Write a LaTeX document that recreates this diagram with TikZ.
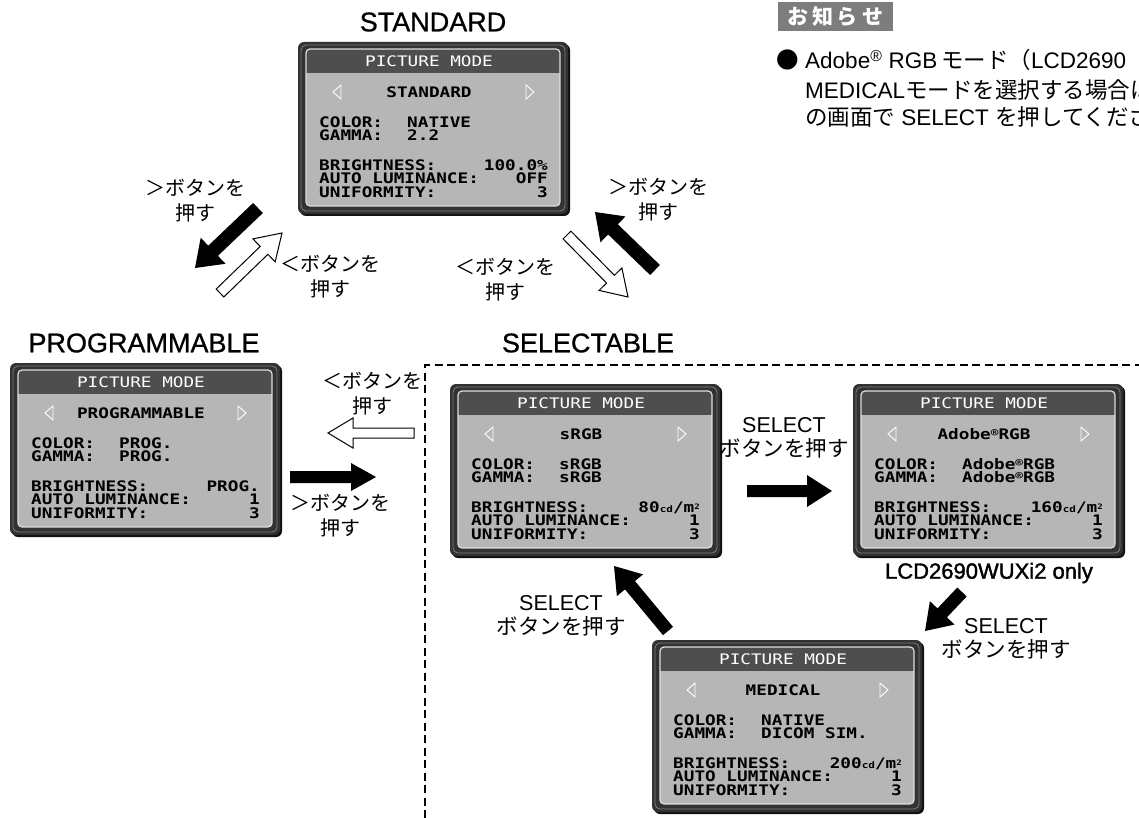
\documentclass[tikz,border=0pt]{standalone}
\usepackage{fontspec}
\setmainfont{Liberation Sans}
\newfontfamily\jpfont{Noto Sans CJK JP}
\newfontfamily\osdfont[FakeStretch=1.22]{DejaVu Sans Mono}
\newfontfamily\titlefont[FakeBold=0.8]{Liberation Sans}
\newfontfamily\onlyfont[FakeBold=1.6]{Liberation Sans}
\usetikzlibrary{calc}
\definecolor{osdFrame}{RGB}{50,50,50}
\definecolor{osdShade}{RGB}{18,18,18}
\definecolor{osdRim}{RGB}{125,125,125}
\definecolor{osdScreen}{RGB}{182,182,182}
\definecolor{osdBar}{RGB}{78,78,78}
\definecolor{osdEdge}{RGB}{222,222,222}
\definecolor{noteGray}{RGB}{125,125,125}
\newcommand{\jp}[1]{{\jpfont #1}}
% one on-screen menu, #2 = top left corner
\newcommand{\osdpanel}[8]{%
  \begin{scope}[shift={#2}]
    \fill[osdShade,rounded corners=6pt] (2,2) rectangle (272,174);
    \fill[osdFrame,rounded corners=6pt] (0,0) rectangle (270,172);
    \draw[osdRim,line width=0.8pt,rounded corners=5pt] (3,3) rectangle (267,169);
    \begin{scope}
      \clip[rounded corners=4pt] (8,7) rectangle (262,164);
      \fill[osdScreen] (8,7) rectangle (262,164);
      \fill[osdBar] (8,7) rectangle (262,31);
    \end{scope}
    \draw[osdEdge,line width=1.2pt,rounded corners=4pt] (8,7) rectangle (262,164);
    \node[osdtext,font=\osdfont\fontsize{14.5}{14.5}\selectfont,text=white] (#1-title) at (131,19) {PICTURE MODE};
    \draw[osdtri] (43,43) -- (35,50) -- (43,57) -- cycle;
    \draw[osdtri] (228,43) -- (236,50) -- (228,57) -- cycle;
    \node[osdtext] (#1-mode) at (131,50) {#3};
    \node[osdtext,anchor=west] (#1-colork) at (21,80) {COLOR:};
    \node[osdtext,anchor=west] (#1-colorv) at (109,80) {#4};
    \node[osdtext,anchor=west] (#1-gammak) at (21,93) {GAMMA:};
    \node[osdtext,anchor=west] (#1-gammav) at (109,93) {#5};
    \node[osdtext,anchor=west] (#1-brk) at (21,123) {BRIGHTNESS:};
    \node[osdtext,anchor=east] (#1-brv) at (250,123) {#6};
    \node[osdtext,anchor=west] (#1-autok) at (21,136) {AUTO LUMINANCE:};
    \node[osdtext,anchor=east] (#1-autov) at (250,136) {#7};
    \node[osdtext,anchor=west] (#1-unik) at (21,150) {UNIFORMITY:};
    \node[osdtext,anchor=east] (#1-univ) at (250,150) {#8};
  \end{scope}}
% block arrow from #2 to #3, half shaft #4, half head #5
\newcommand{\blockarrow}[5][]{%
  \coordinate (#2-b) at ($(#3)!25pt!(#2)$);
  \path[#1] ($(#2)!#4!90:(#3)$) -- ($(#2-b)!#4!90:(#3)$) -- ($(#2-b)!#5!90:(#3)$) -- (#3)
    -- ($(#2-b)!#5!-90:(#3)$) -- ($(#2-b)!#4!-90:(#3)$) -- ($(#2)!#4!-90:(#3)$) -- cycle;}
\newcommand{\unit}[1]{{\fontsize{9}{9}\selectfont #1}}
\newcommand{\sqm}{m\raisebox{3pt}{\fontsize{7.5}{7.5}\selectfont 2}}
\newcommand{\regmark}{\raisebox{2.5pt}{\fontsize{10.5}{10.5}\selectfont ®}}

\begin{document}
\begin{tikzpicture}[
  x=1pt,y=-1pt,
  osdtext/.style={font=\osdfont\bfseries\fontsize{14.5}{14.5}\selectfont,inner sep=0pt,text height=10.6pt,text depth=0pt},
  osdtri/.style={draw=white,fill=osdScreen,line width=0.9pt},
  title/.style={font=\titlefont\fontsize{27}{27}\selectfont,inner sep=0pt},
  btn/.style={font=\jpfont\fontsize{20}{25}\selectfont,align=center,inner sep=0pt},
  sel/.style={font=\fontsize{21.5}{24}\selectfont,align=center,inner sep=0pt},
  notehead/.style={fill=noteGray,text=white,font=\jpfont\bfseries\fontsize{21}{21}\selectfont,minimum width=115pt,minimum height=29pt,inner sep=0pt},
  notetxt/.style={font=\fontsize{22.5}{22.5}\selectfont,inner sep=0pt,anchor=west},
  solidarr/.style={fill=black},
  hollowarr/.style={draw=black,fill=white,line width=1pt,line join=miter},
  selframe/.style={dash pattern=on 8pt off 4.5pt,line width=1.5pt}
]
\useasboundingbox (0,0) rectangle (1139,818);
\fill[white] (0,0) rectangle (1139,818);

% notice
\node[notehead] (noteHead) at (835,17) {お\hspace{4pt}知\hspace{4pt}ら\hspace{4pt}せ};
\node[notetxt,anchor=center] (noteDot) at (788,60) {\jp{●}};
\node[notetxt] (note1) at (805,60) {Adobe\textsuperscript{®} RGB\,\jp{モード（}LCD2690};
\node[notetxt] (note2) at (805,90) {MEDICAL\jp{モードを選択する場合は}};
\node[notetxt] (note3) at (805,117) {\jp{の画面で} SELECT \jp{を押してくださ}};

% menus
\node[title] (stdName) at (433,22) {STANDARD};
\osdpanel{std}{(298,42)}{STANDARD}{NATIVE}{2.2}{100.0\%}{OFF}{3}
\node[title] (progName) at (144,343) {PROGRAMMABLE};
\osdpanel{prog}{(10,363)}{PROGRAMMABLE}{PROG.}{PROG.}{PROG.}{1}{3}
\node[title] (selName) at (588,343) {SELECTABLE};
\draw[selframe] (425,818) -- (425,365) -- (1139,365);
\osdpanel{srgb}{(450,384)}{sRGB}{sRGB}{sRGB}{80\unit{cd}/\sqm}{1}{3}
\osdpanel{adobe}{(853,384)}{Adobe\regmark RGB}{Adobe\regmark RGB}{Adobe\regmark RGB}{160\unit{cd}/\sqm}{1}{3}
\node[inner sep=0pt,font=\onlyfont\fontsize{22}{22}\selectfont] (adobeOnly) at (989,573) {LCD2690WUXi2 only};
\osdpanel{med}{(652,640)}{MEDICAL}{NATIVE}{DICOM SIM.}{200\unit{cd}/\sqm}{1}{3}

% arrow ends
\coordinate (std2prog) at (258,208);  \coordinate (std2progEnd) at (195,268);
\coordinate (prog2std) at (220,293);  \coordinate (prog2stdEnd) at (282,233);
\coordinate (sel2std) at (655,270);   \coordinate (sel2stdEnd) at (595,212);
\coordinate (std2sel) at (567,235);   \coordinate (std2selEnd) at (628,297);
\coordinate (sel2prog) at (414,433);  \coordinate (sel2progEnd) at (328,433);
\coordinate (prog2sel) at (290,477);  \coordinate (prog2selEnd) at (376,477);
\coordinate (srgb2adobe) at (747,491); \coordinate (srgb2adobeEnd) at (832,491);
\coordinate (adobe2med) at (962,592); \coordinate (adobe2medEnd) at (925,631);
\coordinate (med2srgb) at (668,631);  \coordinate (med2srgbEnd) at (614,566);

\blockarrow[solidarr]{std2prog}{std2progEnd}{7pt}{18pt}
\blockarrow[hollowarr]{prog2std}{prog2stdEnd}{5.5pt}{16pt}
\blockarrow[solidarr]{sel2std}{sel2stdEnd}{7pt}{18pt}
\blockarrow[hollowarr]{std2sel}{std2selEnd}{5.5pt}{16pt}
\blockarrow[hollowarr]{sel2prog}{sel2progEnd}{5pt}{15pt}
\blockarrow[solidarr]{prog2sel}{prog2selEnd}{6pt}{14pt}
\blockarrow[solidarr]{srgb2adobe}{srgb2adobeEnd}{6pt}{16pt}
\blockarrow[solidarr]{adobe2med}{adobe2medEnd}{6.5pt}{17pt}
\blockarrow[solidarr]{med2srgb}{med2srgbEnd}{6.5pt}{17pt}

% labels
\node[btn] (lblStdProg) at (195,201) {＞ボタンを\\押す};
\node[btn] (lblProgStd) at (330,277) {＜ボタンを\\押す};
\node[btn] (lblSelStd) at (658,200) {＞ボタンを\\押す};
\node[btn] (lblStdSel) at (505,280) {＜ボタンを\\押す};
\node[btn] (lblSelProg) at (372,394) {＜ボタンを\\押す};
\node[btn] (lblProgSel) at (340,516) {＞ボタンを\\押す};
\node[sel] (lblSrgbAdobe) at (784,438) {SELECT\\\jp{ボタンを押す}};
\node[sel] (lblMedSrgb) at (561,616) {SELECT\\\jp{ボタンを押す}};
\node[sel] (lblAdobeMed) at (1006,639) {SELECT\\\jp{ボタンを押す}};
\end{tikzpicture}
\end{document}
